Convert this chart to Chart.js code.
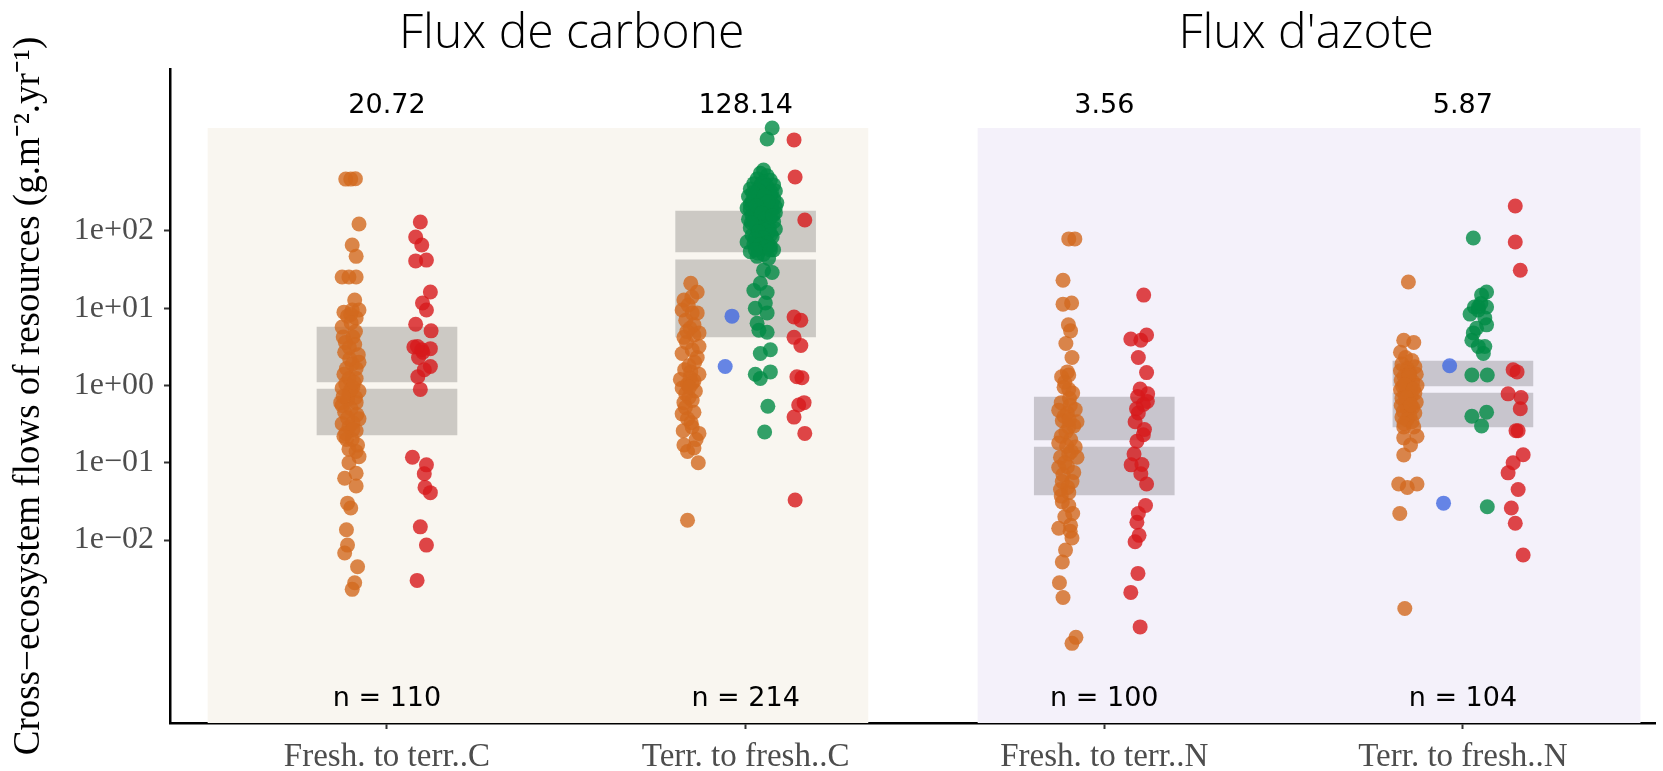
<!DOCTYPE html>
<html>
<head>
<meta charset="utf-8">
<script src="https://cdn.jsdelivr.net/npm/chart.js@4.4.1/dist/chart.umd.min.js"></script>
<style>
  body { margin: 0; background: #fff; }
</style>
</head>
<body>
<canvas id="chart" width="1663" height="771"></canvas>
<script>
// categories and axis labels
const categories = ['Fresh. to terr..C', 'Terr. to fresh..C', 'Fresh. to terr..N', 'Terr. to fresh..N'];
const categoryX = [1, 2, 3, 4];
const yTickValues = [0.01, 0.1, 1, 10, 100];
const yTickLabels = ['1e\u221202', '1e\u221201', '1e+00', '1e+01', '1e+02'];
const meanLabels = ['20.72', '128.14', '3.56', '5.87'];
const nLabels = ['n = 110', 'n = 214', 'n = 100', 'n = 104'];

// panels (carbon / nitrogen)
const panelNames = ['Flux de carbone', "Flux d'azote"];
const panelStart = [0.5, 2.647];
const panelEnd = [2.342, 4.495];
const panelTitleX = [1.515, 3.563];
const panelTop = 2155;

// grey interval boxes, one pair per category
const boxUpperLow = [1.11, 53.5, 0.197, 0.985];
const boxUpperHigh = [5.72, 181, 0.71, 2.07];
const boxLowerLow = [0.229, 4.25, 0.0383, 0.29];
const boxLowerHigh = [0.90, 42.2, 0.16, 0.80];

// jittered points [x, value]
const orangePts = [
  [0.885,470],[0.899,470],[0.912,475],[0.922,123],[0.903,66],[0.914,47],
  [0.875,25.4],[0.894,25.4],[0.914,25.4],[0.910,12.8],
  [0.880,8.9],[0.903,9.5],[0.922,9.5],[0.890,7.9],[0.914,7.5],[0.899,8.3],
  [0.875,5.7],[0.878,4.25],[0.905,4.25],[0.882,2.7],[0.920,2.5],[0.895,3.1],[0.910,3.4],
  [0.887,1.66],[0.914,1.66],[0.922,2.0],[0.903,1.9],[0.894,1.23],[0.914,1.23],[0.880,1.4],
  [0.875,0.93],[0.922,0.85],[0.894,0.78],[0.905,0.95],[0.912,0.7],[0.871,0.6],[0.914,0.6],[0.890,0.66],
  [0.882,0.45],[0.922,0.37],[0.900,0.5],[0.875,0.55],[0.875,0.32],[0.894,0.29],[0.914,0.26],[0.905,0.33],[0.885,0.24],
  [0.887,0.2],[0.903,0.2],[0.894,0.15],[0.914,0.14],[0.894,0.1],[0.922,0.12],
  [0.882,0.063],[0.914,0.073],[0.914,0.05],[0.890,0.03],[0.899,0.026],[0.887,0.0136],
  [0.890,0.0086],[0.882,0.0068],[0.918,0.0045],[0.910,0.0028],[0.903,0.0023],
  [0.885,1.05],[0.899,0.88],[0.908,1.1],[0.878,0.72],[0.916,0.42],[0.890,0.38],[0.905,0.27],
  [0.880,0.22],[0.918,0.17],[0.896,2.2],[0.884,3.6],[0.912,5.0],[0.900,6.5],
  [1.847,21],[1.865,16.2],[1.828,12.8],[1.823,9.5],[1.851,8.7],[1.865,8.7],[1.833,7.0],[1.856,6.1],
  [1.828,4.2],[1.856,4.5],[1.870,4.8],[1.823,2.6],[1.851,2.9],[1.865,2.3],[1.870,3.2],
  [1.842,1.8],[1.870,1.4],[1.847,1.5],[1.818,1.2],[1.838,1.03],[1.851,1.07],[1.823,0.93],[1.833,0.78],
  [1.828,0.6],[1.851,0.64],[1.823,0.43],[1.856,0.45],[1.838,0.37],[1.851,0.29],[1.870,0.24],
  [1.828,0.17],[1.856,0.155],[1.838,0.14],[1.868,0.1],[1.838,0.018],
  [1.840,11],[1.845,5.5],[1.835,3.6],[1.858,2.0],[1.830,1.6],[1.845,1.25],[1.860,0.85],[1.842,0.7],
  [1.832,0.52],[1.848,0.33],[1.862,0.2],[1.826,0.26],[1.850,14],[1.836,5.0],[1.856,1.15],[1.843,0.95],
  [2.901,79],[2.918,79],[2.885,23],[2.885,11.3],[2.909,11.7],[2.900,6.1],[2.906,5.1],[2.910,2.3],
  [2.897,1.5],[2.881,1.3],[2.901,1.37],[2.901,0.89],[2.903,0.68],[2.873,0.48],[2.919,0.49],[2.897,0.44],
  [2.883,0.35],[2.924,0.34],[2.901,0.29],[2.873,0.18],[2.906,0.2],[2.919,0.16],[2.878,0.118],[2.901,0.13],
  [2.924,0.118],[2.873,0.087],[2.897,0.089],[2.883,0.057],[2.910,0.057],[2.878,0.045],[2.901,0.041],
  [2.883,0.031],[2.901,0.028],[2.873,0.0142],[2.906,0.0155],[2.910,0.0106],[2.892,0.0074],[2.883,0.0052],
  [2.875,0.0028],[2.885,0.0018],[2.921,0.00055],[2.910,0.00046],
  [2.890,1.1],[2.912,0.8],[2.880,0.6],[2.905,0.55],[2.888,0.4],[2.915,0.3],[2.893,0.25],[2.880,0.22],
  [2.908,0.14],[2.890,0.1],[2.915,0.075],[2.885,0.07],[2.898,0.048],[2.893,3.5],[2.888,0.95],[2.902,0.36],
  [2.895,0.165],[2.880,0.037],[2.912,0.022],[2.890,0.02],[2.905,0.013],
  [3.848,21.9],[3.835,3.85],[3.863,3.6],[3.826,2.7],
  [3.840,2.3],[3.858,2.1],[3.830,1.9],[3.866,1.75],[3.845,1.65],[3.826,1.55],[3.852,1.45],[3.870,1.4],
  [3.836,1.32],[3.848,1.25],[3.828,1.18],[3.860,1.12],[3.842,1.06],[3.872,1.0],[3.832,0.97],[3.854,0.93],
  [3.826,0.88],[3.846,0.84],[3.866,0.8],[3.838,0.76],[3.856,0.72],[3.830,0.68],[3.850,0.64],[3.870,0.61],
  [3.840,0.58],[3.828,0.55],[3.860,0.52],[3.846,0.49],[3.834,0.46],[3.866,0.44],[3.852,0.41],[3.830,0.39],
  [3.844,0.36],[3.858,0.34],[3.836,0.32],[3.850,1.35],[3.838,1.02],[3.862,0.9],[3.842,0.7],[3.855,0.56],
  [3.835,0.29],[3.863,0.29],[3.835,0.21],[3.872,0.22],[3.854,0.17],[3.835,0.126],
  [3.821,0.053],[3.845,0.048],[3.872,0.053],[3.824,0.022],[3.838,0.0013]
];
const bluePts = [
  [1.962,7.9],[1.943,1.76],
  [3.963,1.8],[3.946,0.03]
];
const greenPts = [
  [2.074,2155],[2.060,1550],[2.050,615],
  [2.041,560],[2.060,520],[2.032,470],[2.069,455],[2.050,430],[2.023,410],[2.078,395],[2.041,380],
  [2.013,350],[2.060,345],[2.083,330],[2.032,320],[2.050,305],[2.069,295],[2.008,280],[2.041,275],
  [2.078,262],[2.023,250],[2.055,245],[2.087,232],[2.013,220],[2.037,215],[2.064,208],[2.004,198],
  [2.046,192],[2.074,188],[2.027,180],[2.083,172],[2.055,168],[2.018,160],[2.037,155],[2.069,150],
  [2.008,142],[2.050,138],[2.078,132],[2.027,126],[2.060,120],[2.041,115],[2.013,110],[2.083,106],
  [2.032,100],[2.064,96],[2.046,92],[2.018,88],[2.074,84],[2.037,80],[2.055,76],[2.004,72],
  [2.023,68],[2.069,64],[2.041,60],[2.078,57],[2.013,54],[2.050,50],[2.032,47],[2.064,44],
  [2.046,365],[2.027,300],[2.060,270],[2.018,240],[2.074,225],[2.041,200],[2.064,178],[2.032,165],
  [2.055,145],[2.023,135],[2.046,255],[2.069,215],[2.037,290],[2.013,190],[2.083,205],[2.050,225],
  [2.030,118],[2.066,110],
  [2.045,410],[2.058,385],[2.035,335],[2.072,318],[2.020,312],[2.052,285],[2.062,238],[2.030,212],
  [2.044,170],[2.076,158],[2.016,128],[2.054,102],[2.036,98],[2.070,90],[2.048,82],[2.026,78],
  [2.060,70],[2.040,66],[2.056,62],[2.034,52],
  [2.027,57],[2.069,57],[2.050,31],[2.074,29],[2.023,17],[2.060,16],[2.041,21],[2.027,10],
  [2.055,11.7],[2.060,8.7],[2.032,6.4],[2.060,4.9],[2.037,5.2],[2.041,2.6],[2.069,2.9],
  [2.027,1.4],[2.041,1.23],[2.069,1.5],[2.062,0.54],[2.053,0.25],
  [4.029,81],[4.066,16.2],[4.052,14.8],[4.032,10.4],[4.043,10.4],[4.066,10.4],[4.020,8.4],[4.043,9.5],
  [4.061,7.5],[4.066,6.1],[4.029,4.8],[4.025,3.85],[4.043,3.2],[4.061,3.2],[4.057,2.6],
  [4.025,1.37],[4.068,1.37],[4.025,0.4],[4.066,0.45],[4.052,0.3],[4.068,0.027],[4.050,11.5],[4.038,5.5]
];
const redPts = [
  [1.093,131],[1.080,83.6],[1.097,66],[1.080,41],[1.110,42],[1.121,16.2],[1.099,11.7],[1.110,9.5],
  [1.080,6.2],[1.123,5.1],[1.075,3.15],[1.097,2.9],[1.121,3.0],[1.088,2.3],[1.121,1.76],[1.104,1.6],
  [1.086,1.3],[1.093,0.89],[1.071,0.118],[1.110,0.094],[1.104,0.072],[1.106,0.048],[1.121,0.041],
  [1.093,0.0148],[1.110,0.0086],[1.084,0.003],[1.100,2.7],[1.085,3.2],
  [2.135,1510],[2.138,500],[2.165,139],[2.135,7.7],[2.154,7.0],[2.135,4.2],[2.154,3.3],[2.143,1.3],
  [2.157,1.26],[2.163,0.6],[2.148,0.56],[2.135,0.39],[2.165,0.24],[2.138,0.033],
  [3.110,14.8],[3.074,4.0],[3.102,3.85],[3.118,4.5],[3.095,2.3],[3.118,1.47],[3.093,0.72],[3.121,0.78],
  [3.109,0.57],[3.095,0.44],[3.086,0.34],[3.109,0.23],[3.091,0.19],[3.083,0.13],[3.075,0.094],[3.102,0.072],
  [3.118,0.053],[3.115,0.028],[3.095,0.022],[3.091,0.017],[3.097,0.0115],[3.086,0.0095],[3.094,0.0037],
  [3.074,0.0021],[3.100,0.00075],[3.100,0.9],[3.120,0.62],[3.090,0.5],[3.105,0.095],[3.112,0.27],
  [4.146,211],[4.146,72],[4.160,31],[4.140,1.6],[4.151,1.5],[4.126,0.78],[4.162,0.7],[4.160,0.5],
  [4.148,0.26],[4.154,0.26],[4.168,0.127],[4.140,0.1],[4.126,0.074],[4.154,0.045],[4.135,0.026],
  [4.146,0.0165],[4.168,0.0064]
];

const meanLabelY = 4200;
const nLabelY = 8.75e-5;
const panelColors = ['#f9f6f0', '#f4f1fa'];

function pts(arr) { return arr.map(p => ({ x: p[0], y: p[1] })); }
function boxes(lo, hi) { return categoryX.map((x, i) => ({ x: x, y: [lo[i], hi[i]] })); }

const decor = {
  id: 'decor',
  beforeDatasetsDraw(chart) {
    const { ctx, chartArea, scales: { x, y } } = chart;
    ctx.save();
    panelNames.forEach((name, i) => {
      const x0 = x.getPixelForValue(panelStart[i]);
      const x1 = x.getPixelForValue(panelEnd[i]);
      const y0 = y.getPixelForValue(panelTop);
      ctx.fillStyle = panelColors[i];
      ctx.fillRect(x0, y0, x1 - x0, chartArea.bottom - y0);
    });
    ctx.restore();
  },
  afterDatasetsDraw(chart) {
    const { ctx, scales: { x, y } } = chart;
    ctx.save();
    ctx.fillStyle = '#000';
    ctx.textAlign = 'center';
    ctx.textBaseline = 'middle';
    ctx.font = '27px "DejaVu Sans"';
    categoryX.forEach((cx, i) => {
      ctx.fillText(meanLabels[i], x.getPixelForValue(cx), y.getPixelForValue(meanLabelY));
      ctx.fillText(nLabels[i], x.getPixelForValue(cx), y.getPixelForValue(nLabelY));
    });
    ctx.textBaseline = 'alphabetic';
    ctx.font = '300 48px "Open Sans"';
    panelNames.forEach((name, i) => {
      ctx.fillText(name, x.getPixelForValue(panelTitleX[i]), 48);
    });
    ctx.restore();
  }
};

const ptStyle = { pointRadius: 7.5, pointHoverRadius: 7.5, pointBorderWidth: 0, type: 'scatter', order: 1 };

new Chart(document.getElementById('chart'), {
  type: 'scatter',
  data: {
    datasets: [
      Object.assign({ label: 'orange', data: pts(orangePts), backgroundColor: 'rgba(210,105,30,0.8)' }, ptStyle),
      Object.assign({ label: 'blue', data: pts(bluePts), backgroundColor: 'rgba(65,105,225,0.8)' }, ptStyle),
      Object.assign({ label: 'green', data: pts(greenPts), backgroundColor: 'rgba(0,139,69,0.8)' }, ptStyle),
      Object.assign({ label: 'red', data: pts(redPts), backgroundColor: 'rgba(215,25,28,0.8)' }, ptStyle),
      { type: 'bar', label: 'upper', data: boxes(boxUpperLow, boxUpperHigh), backgroundColor: 'rgba(0,0,0,0.18)',
        barThickness: 140, grouped: false, borderWidth: 0, order: 2 },
      { type: 'bar', label: 'lower', data: boxes(boxLowerLow, boxLowerHigh), backgroundColor: 'rgba(0,0,0,0.18)',
        barThickness: 140, grouped: false, borderWidth: 0, order: 2 }
    ]
  },
  options: {
    responsive: false,
    animation: false,
    devicePixelRatio: 1,
    layout: { padding: { top: 69, left: 0, right: 0, bottom: 0 } },
    plugins: { legend: { display: false }, tooltip: { enabled: false } },
    events: [],
    scales: {
      x: {
        type: 'linear',
        min: 0.395,
        max: 4.537,
        bounds: 'data',
        offset: false,
        afterBuildTicks: (scale) => { scale.ticks = categoryX.map(v => ({ value: v })); },
        afterFit: (scale) => { scale.height = 48; },
        ticks: {
          autoSkip: false, maxRotation: 0, padding: 9,
          color: '#4d4d4d',
          font: { family: '"Liberation Serif"', size: 33 },
          callback: (v, i) => categories[i]
        },
        grid: { display: true, drawOnChartArea: false, drawTicks: true, tickLength: 6, tickColor: '#333', tickWidth: 2, offset: false },
        border: { display: true, color: '#000', width: 2.5 }
      },
      y: {
        type: 'logarithmic',
        min: 4.28e-5,
        max: 12500,
        bounds: 'data',
        afterBuildTicks: (scale) => { scale.ticks = yTickValues.map(v => ({ value: v })); },
        afterFit: (scale) => { scale.width = 170; },
        ticks: {
          padding: 10,
          color: '#4d4d4d',
          font: { family: '"Liberation Serif"', size: 32 },
          callback: (v, i) => yTickLabels[i]
        },
        grid: { display: true, drawOnChartArea: false, drawTicks: true, tickLength: 6, tickColor: '#333', tickWidth: 2 },
        border: { display: true, color: '#000', width: 2.5 },
        title: {
          display: true,
          text: 'Cross\u2212ecosystem flows of resources (g.m\u207B\u00B2.yr\u207B\u00B9)',
          color: '#000',
          font: { family: '"Liberation Serif"', size: 37 },
          padding: { top: 7, bottom: 0 }
        }
      }
    }
  },
  plugins: [decor]
});
</script>
</body>
</html>
